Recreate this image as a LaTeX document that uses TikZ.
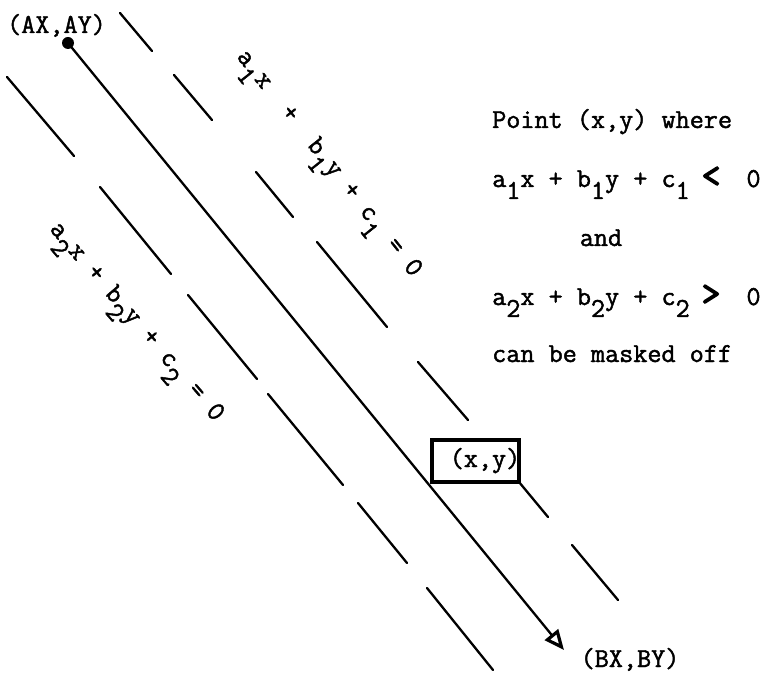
\documentclass[tikz,border=0pt]{standalone}
\usepackage{fontspec}
\setmonofont{Latin Modern Mono}[FakeBold=1.6]
\usetikzlibrary{arrows.meta}
\newcommand\sub[1]{\raisebox{-12pt}{#1}}
\newcommand\chev[1]{\makebox[14.4pt]{\fontsize{36}{36}\selectfont\addfontfeature{FakeBold=4}#1}}
\begin{document}
\begin{tikzpicture}[x=1pt,y=-1pt,
  tw/.style={font=\ttfamily\fontsize{27.4}{27.4}\selectfont, inner sep=0pt, text=black},
  dashseg/.style={line width=2.3pt, line cap=round},
  mainline/.style={line width=2.3pt, -{Triangle[open,length=20pt,width=17pt,line width=3.2pt]}}]
\useasboundingbox (0,0) rectangle (774,679);
\fill[white] (0,0) rectangle (774,679);

% main line
\node[circle, fill=black, inner sep=0pt, minimum size=12pt] (A) at (68,43) {};
\coordinate (B) at (564,650);
\draw[mainline] (A.center) -- (B);

% right dashed line
\draw[dashseg] (120,13) -- (152,51);
\draw[dashseg] (174,75) -- (212,120);
\draw[dashseg] (256,172) -- (293,217);
\draw[dashseg] (317,242) -- (387,327);
\draw[dashseg] (418,362) -- (468,420);
\draw[dashseg] (519,482) -- (548,517);
\draw[dashseg] (572,545) -- (618,600);

% left dashed line
\draw[dashseg] (7,77) -- (74,156);
\draw[dashseg] (100,187) -- (171,274);
\draw[dashseg] (188,295) -- (257,379);
\draw[dashseg] (268,394) -- (343,485);
\draw[dashseg] (358,503) -- (407,563);
\draw[dashseg] (427,588) -- (493,670);

% box
\draw[line width=3.2pt, fill=white] (432,440) rectangle (519,482);
\node[tw, anchor=base] (xy) at (485,467) {(x,y)};

% end labels
\node[tw, anchor=base] (AXY) at (56.5,33) {(AX,AY)};
\node[tw, anchor=base] (BXY) at (630,667) {(BX,BY)};

% rotated labels
\node[tw, anchor=base, rotate=-51.5] (L1) at (324,167.5) {a\sub{1}x~~+~~b\sub{1}y~+~c\sub{1}~=~0};
\node[tw, anchor=base, rotate=-49.4] (L2) at (131.7,326) {a\sub{2}x~+~b\sub{2}y~+~c\sub{2}~=~0};

% right text
\node[tw, anchor=base west] (t1) at (492,128) {Point~(x,y)~where};
\node[tw, anchor=base west] (t2) at (492,187) {a\sub{1}x~+~b\sub{1}y~+~c\sub{1}~\chev{<}~~0};
\node[tw, anchor=base] (t3) at (601,246) {and};
\node[tw, anchor=base west] (t4) at (492,305) {a\sub{2}x~+~b\sub{2}y~+~c\sub{2}~\chev{>}~~0};
\node[tw, anchor=base west] (t5) at (492,362) {can~be~masked~off};
\end{tikzpicture}
\end{document}
